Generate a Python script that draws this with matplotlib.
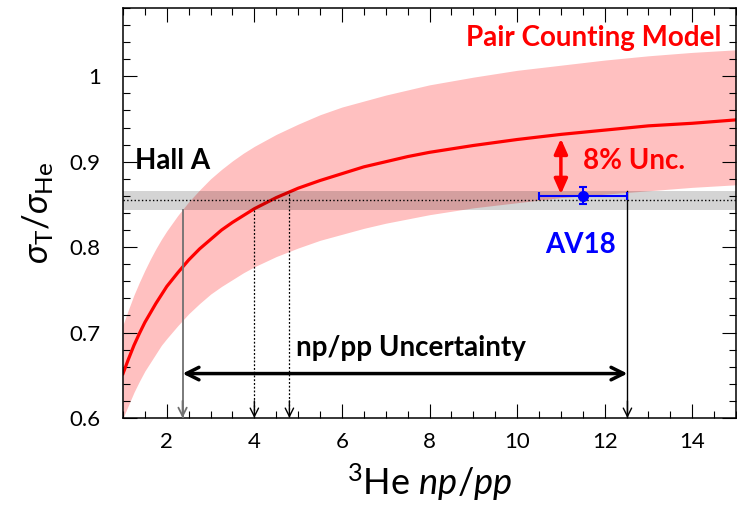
import matplotlib.pyplot as plt
from matplotlib.ticker import MultipleLocator

plt.rcParams['font.family'] = ['Lato', 'DejaVu Sans']
plt.rcParams['mathtext.fontset'] = 'custom'
plt.rcParams['mathtext.rm'] = 'Lato'
plt.rcParams['mathtext.it'] = 'Lato:italic'
plt.rcParams['mathtext.bf'] = 'Lato:bold'
plt.rcParams['mathtext.fallback'] = 'stixsans'

# 3He np/pp ratio and the pair counting model with its uncertainty band
ratio = [1, 1.125, 1.25, 1.375, 1.5, 1.625, 1.75, 1.875, 2, 2.25, 2.5, 2.75, 3, 3.25, 3.5, 3.75,
         4, 4.5, 5, 5.5, 6, 6.5, 7, 7.5, 8, 9, 10, 11, 12, 13, 14, 15]
model = [0.652, 0.669, 0.685, 0.699, 0.712, 0.723, 0.734, 0.744, 0.754, 0.770, 0.785, 0.798,
         0.809, 0.820, 0.829, 0.837, 0.845, 0.858, 0.869, 0.878, 0.886, 0.894, 0.900, 0.906,
         0.911, 0.919, 0.926, 0.932, 0.937, 0.942, 0.945, 0.949]
model_hi = [0.709, 0.727, 0.744, 0.759, 0.773, 0.786, 0.798, 0.809, 0.819, 0.837, 0.853, 0.867,
            0.880, 0.891, 0.901, 0.910, 0.918, 0.932, 0.944, 0.955, 0.964, 0.971, 0.978, 0.984,
            0.990, 0.999, 1.007, 1.013, 1.019, 1.024, 1.028, 1.031]
model_lo = [0.600, 0.615, 0.630, 0.643, 0.655, 0.665, 0.675, 0.685, 0.693, 0.708, 0.722, 0.734,
            0.745, 0.754, 0.762, 0.770, 0.777, 0.789, 0.799, 0.808, 0.815, 0.822, 0.828, 0.833,
            0.838, 0.846, 0.852, 0.858, 0.862, 0.866, 0.870, 0.873]

# Hall A measurement
hall_a = 0.855
hall_a_err = 0.011

# AV18 calculation
av18_x = 11.5
av18_xerr = 1.0
av18_y = 0.86
av18_yerr = 0.01

# np/pp values where the measurement meets the model / band
range_lo = 2.36
range_hi = 12.52
cross_lo = 4.0
cross_hi = 4.8

fig = plt.figure(figsize=(7.37, 5.14), dpi=100)
ax = fig.add_axes([0.1669, 0.1868, 0.8318, 0.7977])

ax.fill_between(ratio, model_lo, model_hi, color='#ffc0c0', lw=0, zorder=1)
ax.plot(ratio, model, color='red', lw=2.3, zorder=2, solid_joinstyle='round')

ax.axhspan(hall_a - hall_a_err, hall_a + hall_a_err, color='k', alpha=0.17, lw=0, zorder=3)
ax.axhline(hall_a, color='k', ls=':', lw=1, zorder=4)

# lines down to the x axis
head = dict(arrowstyle='->,head_length=0.6,head_width=0.3', lw=1, shrinkA=0, shrinkB=0)
ax.plot([range_lo, range_lo], [hall_a - hall_a_err, 0.6], color='#707070', lw=1.3, zorder=4)
ax.annotate('', xy=(range_lo, 0.6), xytext=(range_lo, 0.62), arrowprops=dict(head, color='#707070', lw=1.3), zorder=4)
ax.plot([range_hi, range_hi], [hall_a + hall_a_err, 0.6], color='k', lw=1, zorder=4)
ax.annotate('', xy=(range_hi, 0.6), xytext=(range_hi, 0.62), arrowprops=dict(head, color='k'), zorder=4)
ax.plot([cross_lo, cross_lo], [hall_a - hall_a_err, 0.6], color='k', lw=0.9, ls=(0, (1.5, 1.5)), zorder=4)
ax.annotate('', xy=(cross_lo, 0.6), xytext=(cross_lo, 0.62), arrowprops=dict(head, color='k'), zorder=4)
ax.plot([cross_hi, cross_hi], [0.862, 0.6], color='k', lw=0.9, ls=(0, (1.5, 1.5)), zorder=4)
ax.annotate('', xy=(cross_hi, 0.6), xytext=(cross_hi, 0.62), arrowprops=dict(head, color='k'), zorder=4)

ax.annotate('', xy=(range_lo, 0.652), xytext=(range_hi, 0.652),
            arrowprops=dict(arrowstyle='<->,head_length=0.9,head_width=0.45', lw=2.5, color='k',
                            shrinkA=0, shrinkB=0), zorder=5)
ax.annotate('', xy=(11.0, 0.927), xytext=(11.0, 0.862),
            arrowprops=dict(arrowstyle='<|-|>,head_length=0.9,head_width=0.4', lw=2.5, color='red',
                            shrinkA=0, shrinkB=0), zorder=5)

ax.errorbar(av18_x, av18_y, xerr=av18_xerr, yerr=av18_yerr, fmt='o', color='blue',
            ms=7, lw=1.5, capsize=3, capthick=1.5, zorder=6)

ax.text(14.66, 1.035, 'Pair Counting Model', color='red', fontsize=20, fontweight='bold', ha='right')
ax.text(1.28, 0.891, 'Hall A', color='k', fontsize=20, fontweight='bold')
ax.text(11.5, 0.891, '8% Unc.', color='red', fontsize=20, fontweight='bold')
ax.text(11.44, 0.7926, 'AV18', color='blue', fontsize=20, fontweight='bold', ha='center')
ax.text(4.94, 0.6725, 'np/pp Uncertainty', color='k', fontsize=20, fontweight='bold')

ax.set_xlim(1, 15)
ax.set_ylim(0.6, 1.08)
ax.set_xticks([2, 4, 6, 8, 10, 12, 14])
ax.set_yticks([0.6, 0.7, 0.8, 0.9, 1.0], ['0.6', '0.7', '0.8', '0.9', '1'])
ax.xaxis.set_minor_locator(MultipleLocator(0.5))
ax.yaxis.set_minor_locator(MultipleLocator(0.02))
ax.tick_params(which='both', direction='in', top=True, right=True, width=0.8, labelsize=16)
ax.tick_params(which='major', length=10)
ax.tick_params(which='minor', length=5)
ax.tick_params(axis='x', pad=10)
ax.tick_params(axis='y', pad=16)
for s in ax.spines.values():
    s.set_linewidth(1.1)

ax.set_xlabel(r'$^{3}$He $np/pp$', fontsize=26, labelpad=7)
ax.set_ylabel(r'$\sigma_{\rm T}/\sigma_{\rm He}$', fontsize=25, labelpad=10)

plt.savefig('out.png', dpi=100)
